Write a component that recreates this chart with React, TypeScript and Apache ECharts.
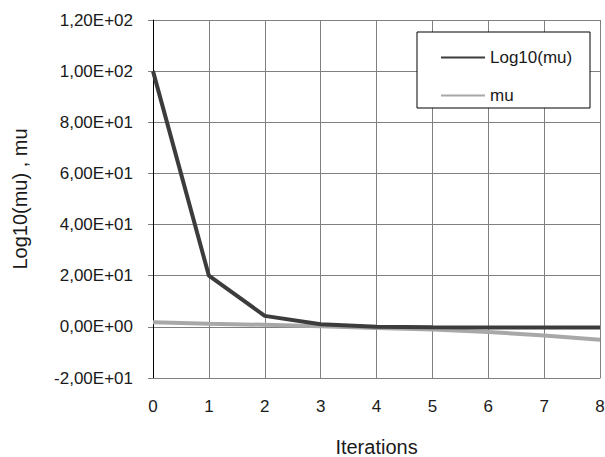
import React, { useEffect, useRef } from "react";
import * as echarts from "echarts";

const iterations = [0, 1, 2, 3, 4, 5, 6, 7, 8];
const log10Mu = [100, 20, 4.3, 1, 0, -0.2, -0.3, -0.3, -0.3];
const mu = [1.8, 1.2, 0.8, 0.2, -0.4, -1, -2, -3.4, -5];
const seriesNames = ["Log10(mu)", "mu"];

function sci(v: number): string {
  if (v === 0) return "0,00E+00";
  const a = Math.abs(v);
  let e = Math.floor(Math.log10(a) + 1e-9);
  let m = a / Math.pow(10, e);
  if (m >= 9.995) { m /= 10; e += 1; }
  const sign = v < 0 ? "-" : "";
  const es = (e < 0 ? "-" : "+") + String(Math.abs(e)).padStart(2, "0");
  return sign + m.toFixed(2).replace(".", ",") + "E" + es;
}

export default function App() {
  const ref = useRef<HTMLDivElement>(null);
  useEffect(() => {
    const chart = echarts.init(ref.current!, null, { renderer: "svg" });
    const font = "'Liberation Sans', Arial, sans-serif";
    chart.setOption({
      animation: false,
      textStyle: { fontFamily: font },
      grid: { left: 153, right: 5, top: 20, bottom: 79, containLabel: false, outerBoundsMode: "none" },
      graphic: [
        {
          type: "rect",
          shape: { x: 417, y: 32, width: 173, height: 76 },
          style: { fill: "#fff", stroke: "#000", lineWidth: 1 },
          z: 100,
        },
      ],
      legend: {
        orient: "vertical",
        left: 436,
        top: 44,
        itemWidth: 44,
        itemHeight: 2,
        itemGap: 21,
        icon: "rect",
        z: 110,
        data: seriesNames,
        textStyle: { fontFamily: font, fontSize: 17, color: "#1a1a1a", padding: [0, 0, 0, 0] },
      },
      xAxis: {
        type: "value",
        min: 0,
        max: 8,
        interval: 1,
        name: "Iterations",
        nameLocation: "middle",
        nameGap: 59,
        nameTextStyle: { fontFamily: font, fontSize: 20, color: "#1a1a1a" },
        axisLine: { onZero: false, lineStyle: { color: "#808080" } },
        axisTick: { show: false },
        axisLabel: { fontFamily: font, fontSize: 17, color: "#1a1a1a", margin: 20 },
        splitLine: { show: true, lineStyle: { color: "#808080", width: 1 } },
      },
      yAxis: {
        type: "value",
        min: -20,
        max: 120,
        interval: 20,
        name: "Log10(mu) , mu",
        nameLocation: "middle",
        nameGap: 123,
        nameTextStyle: { fontFamily: font, fontSize: 20, color: "#1a1a1a" },
        axisLine: { show: true, lineStyle: { color: "#000" } },
        axisTick: { show: true, length: 5, lineStyle: { color: "#808080" } },
        axisLabel: { fontFamily: font, fontSize: 17, color: "#1a1a1a", margin: 20, formatter: (v: number) => sci(v) },
        splitLine: { show: true, lineStyle: { color: "#808080", width: 1 } },
      },
      series: [
        {
          name: seriesNames[1],
          type: "line",
          data: iterations.map((x, i) => [x, mu[i]]),
          symbol: "none",
          lineStyle: { color: "#a8a8a8", width: 4 },
          itemStyle: { color: "#a8a8a8" },
        },
        {
          name: seriesNames[0],
          type: "line",
          data: iterations.map((x, i) => [x, log10Mu[i]]),
          symbol: "none",
          lineStyle: { color: "#3c3c3c", width: 4 },
          itemStyle: { color: "#3c3c3c" },
        },
      ],
    });
    return () => chart.dispose();
  }, []);
  return <div ref={ref} style={{ width: 605, height: 457, position: "absolute", left: 0, top: 0, background: "#fff" }} />;
}
